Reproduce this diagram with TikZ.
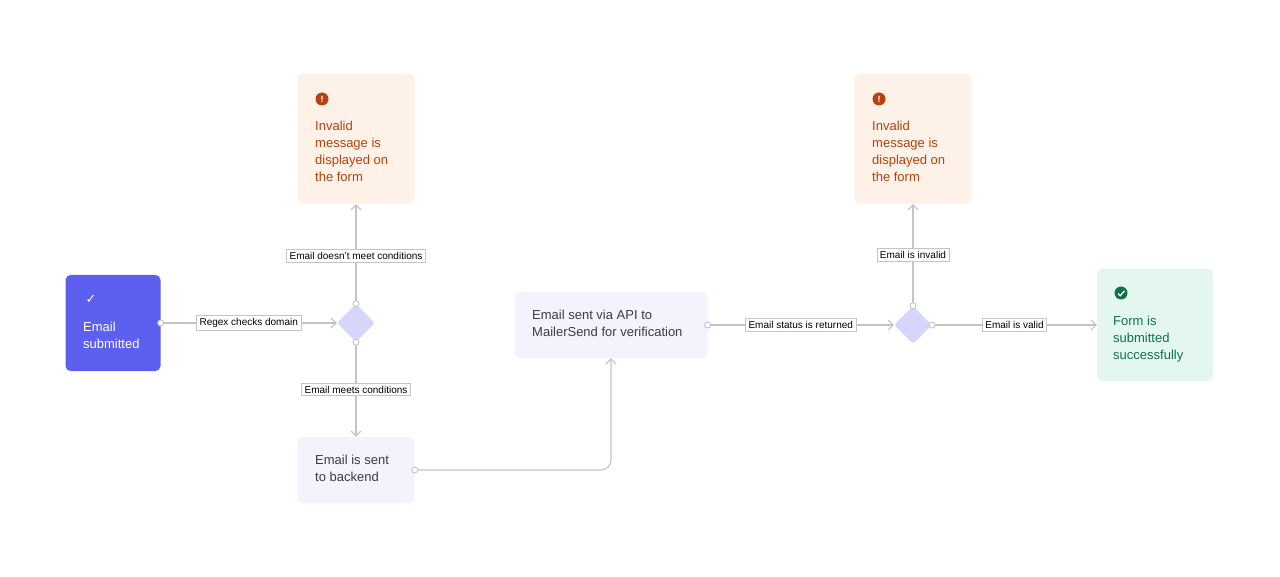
\documentclass[tikz,border=0pt]{standalone}
\usepackage{fontspec}
\setmainfont{Liberation Sans}
\usetikzlibrary{positioning,arrows.meta,shapes.geometric}
\definecolor{violet}{HTML}{5D5FEF}
\definecolor{lilac}{HTML}{D6D6FB}
\definecolor{paleblue}{HTML}{F3F3FD}
\definecolor{peach}{HTML}{FEF1E7}
\definecolor{rust}{HTML}{B5420F}
\definecolor{mint}{HTML}{E4F7EE}
\definecolor{pine}{HTML}{11704A}
\definecolor{wire}{HTML}{C4C4C8}
\definecolor{ink}{HTML}{3A3A4A}
\tikzset{
  box/.style={rectangle, rounded corners=5pt, inner sep=0pt, font=\fontsize{13}{17}\selectfont},
  dec/.style={diamond, fill=lilac, minimum size=38pt, inner sep=0pt, rounded corners=3pt},
  tag/.style={draw=wire, fill=white, font=\fontsize{10}{12}\selectfont, text=black, inner xsep=3pt, inner ysep=2.5pt, line width=0.8pt},
  link/.style={draw=wire, line width=1.1pt, -{Straight Barb[length=5pt,width=10pt]}},
  dot/.style={circle, draw=wire, fill=white, line width=0.9pt, inner sep=0pt, minimum size=6pt},
}
\begin{document}
\begin{tikzpicture}[x=1pt,y=-1pt]
\fill[white] (0,0) rectangle (1280,577);
% nodes
\node (sub) [box, fill=violet, minimum width=95pt, minimum height=96pt] at (113,323) {};
\node[text=white, font=\fontsize{13}{17}\selectfont] at (91,299) {\fontspec{DejaVu Sans}✓};
\node[text=white, align=left, anchor=north west, font=\fontsize{13}{17}\selectfont, inner sep=0pt] at (83,322) {Email\\submitted};
\node (d1) [dec] at (356,323) {};
\node (inv1) [box, fill=peach, minimum width=117pt, minimum height=130pt] at (356,139) {};
\node (back) [box, fill=paleblue, minimum width=117pt, minimum height=66pt] at (356,470) {};
\node (api) [box, fill=paleblue, minimum width=193pt, minimum height=66pt] at (611,325) {};
\node (d2) [dec] at (913,325) {};
\node (inv2) [box, fill=peach, minimum width=117pt, minimum height=130pt] at (913,139) {};
\node (ok) [box, fill=mint, minimum width=116pt, minimum height=112pt] at (1155,325) {};
% texts
\foreach \cx in {322,879}{
  \fill[rust] (\cx,99) circle (6.5pt);
  \node[text=white, font=\bfseries\fontsize{9}{9}\selectfont, inner sep=0pt] at (\cx,99) {!};
  \node[text=rust, align=left, anchor=north west, inner sep=0pt, font=\fontsize{13}{17}\selectfont] at (\cx-7,121) {Invalid\\message is\\displayed on\\the form};
}
\node[text=ink, align=left, anchor=north west, inner sep=0pt, font=\fontsize{13}{17}\selectfont] at (315,455) {Email is sent\\to backend};
\node[text=ink, align=left, anchor=north west, inner sep=0pt, font=\fontsize{13}{17}\selectfont] at (532,310) {Email sent via API to\\MailerSend for verification};
\fill[pine] (1121,293) circle (6.5pt);
\draw[white, line width=1.3pt] (1118,293.5) -- (1120.3,295.7) -- (1124.5,290.8);
\node[text=pine, align=left, anchor=north west, inner sep=0pt, font=\fontsize{13}{17}\selectfont] at (1113,316) {Form is\\submitted\\successfully};
% connectors
\draw[link] (sub.east) -- node[tag]{Regex checks domain} (d1.west);
\draw[link] (d1.north) -- node[tag, pos=0.48]{Email doesn't meet conditions} (inv1.south);
\draw[link] (d1.south) -- node[tag, pos=0.5]{Email meets conditions} (back.north);
\draw[link, rounded corners=10pt] (back.east) -| (api.south);
\draw[link] (api.east) -- node[tag]{Email status is returned} (d2.west);
\draw[link] (d2.north) -- node[tag]{Email is invalid} (inv2.south);
\draw[link] (d2.east) -- node[tag]{Email is valid} (ok.west);
\foreach \p in {sub.east, d1.north, d1.south, back.east, api.east, d2.north, d2.east}
  \node[dot] at (\p) {};
\end{tikzpicture}
\end{document}
